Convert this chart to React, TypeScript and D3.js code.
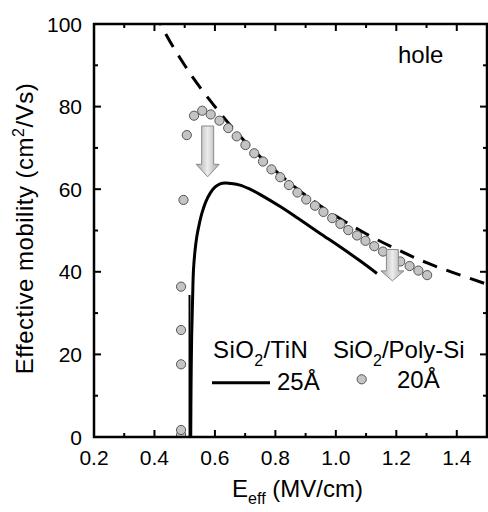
import React from "react";
import * as d3 from "d3";

const W = 488;
const H = 512;
const M = { left: 94, right: 487, top: 24, bottom: 437 };

const xMajor = [0.2, 0.4, 0.6, 0.8, 1.0, 1.2, 1.4];
const xMinor = [0.3, 0.5, 0.7, 0.9, 1.1, 1.3, 1.5];
const yMajor = [0, 20, 40, 60, 80, 100];
const yMinor = [10, 30, 50, 70, 90];

// SiO2/Poly-Si 20Å (circles)
const polyX = [0.488, 0.488, 0.488, 0.488, 0.488, 0.496, 0.507, 0.531, 0.558, 0.586, 0.615, 0.644, 0.672, 0.701, 0.730, 0.759, 0.787, 0.816, 0.845, 0.873, 0.902, 0.931, 0.959, 0.988, 1.015, 1.041, 1.070, 1.098, 1.127, 1.156, 1.185, 1.213, 1.244, 1.273, 1.302];
const polyY = [0.5, 1.7, 17.6, 25.9, 36.4, 57.4, 73.1, 77.8, 79.0, 78.1, 76.6, 74.8, 72.8, 70.7, 68.7, 66.7, 64.8, 62.9, 61.0, 59.2, 57.5, 56.0, 54.5, 53.0, 51.6, 50.1, 48.8, 47.5, 46.2, 44.9, 43.7, 42.5, 41.4, 40.3, 39.2];

// SiO2/TiN 25Å (solid line)
const tinX = [0.520, 0.521, 0.523, 0.526, 0.529, 0.534, 0.540, 0.548, 0.557, 0.570, 0.584, 0.600, 0.617, 0.634, 0.650, 0.683, 0.716, 0.750, 0.816, 0.882, 0.948, 1.015, 1.081, 1.136];
const tinY = [0.0, 12.0, 24.3, 33.0, 40.4, 45.0, 48.5, 51.5, 54.2, 57.0, 59.0, 60.5, 61.3, 61.5, 61.4, 61.0, 60.0, 58.7, 55.8, 52.6, 49.3, 46.0, 42.6, 39.6];
const spikeX = [0.516, 0.516];
const spikeY = [0, 34.4];

// universal mobility (dashed)
const univX = [0.40, 0.42, 0.50, 0.60, 0.70, 0.80, 0.90, 1.00, 1.10, 1.20, 1.30, 1.40, 1.50];
const univY = [103, 100, 90, 80, 71.5, 64.5, 58.5, 53.5, 49.2, 45.5, 42.2, 39.5, 37.0];

// arrows
const arrowX = [0.576, 1.187];
const arrowTop = [75.3, 45.4];
const arrowTip = [63.0, 37.8];
const arrowHead = [12.5, 10];

const x = d3.scaleLinear().domain([0.2, 1.5]).range([M.left, M.right]);
const y = d3.scaleLinear().domain([0, 100]).range([M.bottom, M.top]);

const line = d3
  .line<[number, number]>()
  .x((d) => x(d[0]))
  .y((d) => y(d[1]))
  .curve(d3.curveMonotoneX);
const smooth = d3
  .line<[number, number]>()
  .x((d) => x(d[0]))
  .y((d) => y(d[1]))
  .curve(d3.curveCatmullRom.alpha(0.5));
const straight = d3
  .line<[number, number]>()
  .x((d) => x(d[0]))
  .y((d) => y(d[1]));

const FONT = "'Liberation Sans', Arial, Helvetica, sans-serif";

function arrowPath(i: number) {
  const cx = x(arrowX[i]);
  const t = y(arrowTop[i]);
  const tip = y(arrowTip[i]);
  const hs = tip - arrowHead[i];
  const sw = 6;
  const hw = 11.5;
  return `M${cx - sw},${t}L${cx + sw},${t}L${cx + sw},${hs}L${cx + hw},${hs}L${cx},${tip}L${cx - hw},${hs}L${cx - sw},${hs}Z`;
}

export default function App() {
  const tin = tinX.map((v, i) => [v, tinY[i]] as [number, number]);
  const spike = spikeX.map((v, i) => [v, spikeY[i]] as [number, number]);
  const univ = univX.map((v, i) => [v, univY[i]] as [number, number]);
  return (
    <svg
      width={W}
      height={H}
      style={{ position: "absolute", left: 0, top: 0, background: "#fff" }}
      fontFamily={FONT}
    >
      <defs>
        <clipPath id="plot">
          <rect x={M.left} y={M.top} width={M.right - M.left} height={M.bottom - M.top} />
        </clipPath>
        <linearGradient id="arrowGrad" x1="0" x2="1" y1="0" y2="0">
          <stop offset="0%" stopColor="#a8a8a8" />
          <stop offset="50%" stopColor="#ececec" />
          <stop offset="100%" stopColor="#a8a8a8" />
        </linearGradient>
      </defs>

      {/* ticks */}
      {xMajor.map((v) => (
        <g key={"xM" + v}>
          <line x1={x(v)} x2={x(v)} y1={M.bottom} y2={M.bottom - 7} stroke="#000" strokeWidth={2} />
          <line x1={x(v)} x2={x(v)} y1={M.top} y2={M.top + 7} stroke="#000" strokeWidth={2} />
          <text x={x(v)} y={465} textAnchor="middle" fontSize={21}>
            {v.toFixed(1)}
          </text>
        </g>
      ))}
      {xMinor.map((v) => (
        <g key={"xm" + v}>
          <line x1={x(v)} x2={x(v)} y1={M.bottom} y2={M.bottom - 4} stroke="#000" strokeWidth={2} />
          <line x1={x(v)} x2={x(v)} y1={M.top} y2={M.top + 4} stroke="#000" strokeWidth={2} />
        </g>
      ))}
      {yMajor.map((v) => (
        <g key={"yM" + v}>
          <line x1={M.left} x2={M.left + 7} y1={y(v)} y2={y(v)} stroke="#000" strokeWidth={2} />
          <line x1={M.right} x2={M.right - 7} y1={y(v)} y2={y(v)} stroke="#000" strokeWidth={2} />
          <text x={82} y={y(v)} dy="0.36em" textAnchor="end" fontSize={21}>
            {v}
          </text>
        </g>
      ))}
      {yMinor.map((v) => (
        <g key={"ym" + v}>
          <line x1={M.left} x2={M.left + 4} y1={y(v)} y2={y(v)} stroke="#000" strokeWidth={2} />
          <line x1={M.right} x2={M.right - 4} y1={y(v)} y2={y(v)} stroke="#000" strokeWidth={2} />
        </g>
      ))}

      <g clipPath="url(#plot)">
        <path d={line(univ) || ""} fill="none" stroke="#000" strokeWidth={3} strokeDasharray="15,10" />
        <path d={straight(spike) || ""} fill="none" stroke="#000" strokeWidth={2} />
        <path d={smooth(tin) || ""} fill="none" stroke="#000" strokeWidth={3} />
        {polyX.map((v, i) => (
          <circle key={i} cx={x(v)} cy={y(polyY[i])} r={4.6} fill="#c4c4c4" stroke="#555" strokeWidth={1} />
        ))}
        {arrowX.map((_, i) => (
          <path key={"a" + i} d={arrowPath(i)} fill="url(#arrowGrad)" stroke="#8a8a8a" strokeWidth={1} />
        ))}
      </g>

      {/* frame */}
      <rect
        x={M.left}
        y={M.top}
        width={M.right - M.left}
        height={M.bottom - M.top}
        fill="none"
        stroke="#000"
        strokeWidth={2.5}
      />

      <text x={398} y={63} fontSize={24}>hole</text>

      {/* legend */}
      <text x={213} y={358} fontSize={24} letterSpacing={0.4}>
        SiO<tspan fontSize={16} dy={8}>2</tspan>
        <tspan dy={-8}>/TiN</tspan>
      </text>
      <line x1={212} x2={270} y1={382.7} y2={382.7} stroke="#000" strokeWidth={3} />
      <text x={277} y={390} fontSize={24}>25Å</text>
      <text x={333} y={358} fontSize={24}>
        SiO<tspan fontSize={16} dy={8}>2</tspan>
        <tspan dy={-8}>/Poly-Si</tspan>
      </text>
      <circle cx={361.7} cy={379.3} r={4.6} fill="#c4c4c4" stroke="#555" strokeWidth={1} />
      <text x={397} y={388} fontSize={24}>20Å</text>

      {/* axis titles */}
      <text x={297.5} y={497} textAnchor="middle" fontSize={24}>
        E<tspan fontSize={16} dy={7}>eff</tspan>
        <tspan dy={-7}> (MV/cm)</tspan>
      </text>
      <text
        transform={`translate(33,228.5) rotate(-90)`}
        textAnchor="middle"
        fontSize={24}
        letterSpacing={0.5}
      >
        Effective mobility (cm<tspan fontSize={16} dy={-9}>2</tspan>
        <tspan dy={9}>/Vs)</tspan>
      </text>
    </svg>
  );
}
